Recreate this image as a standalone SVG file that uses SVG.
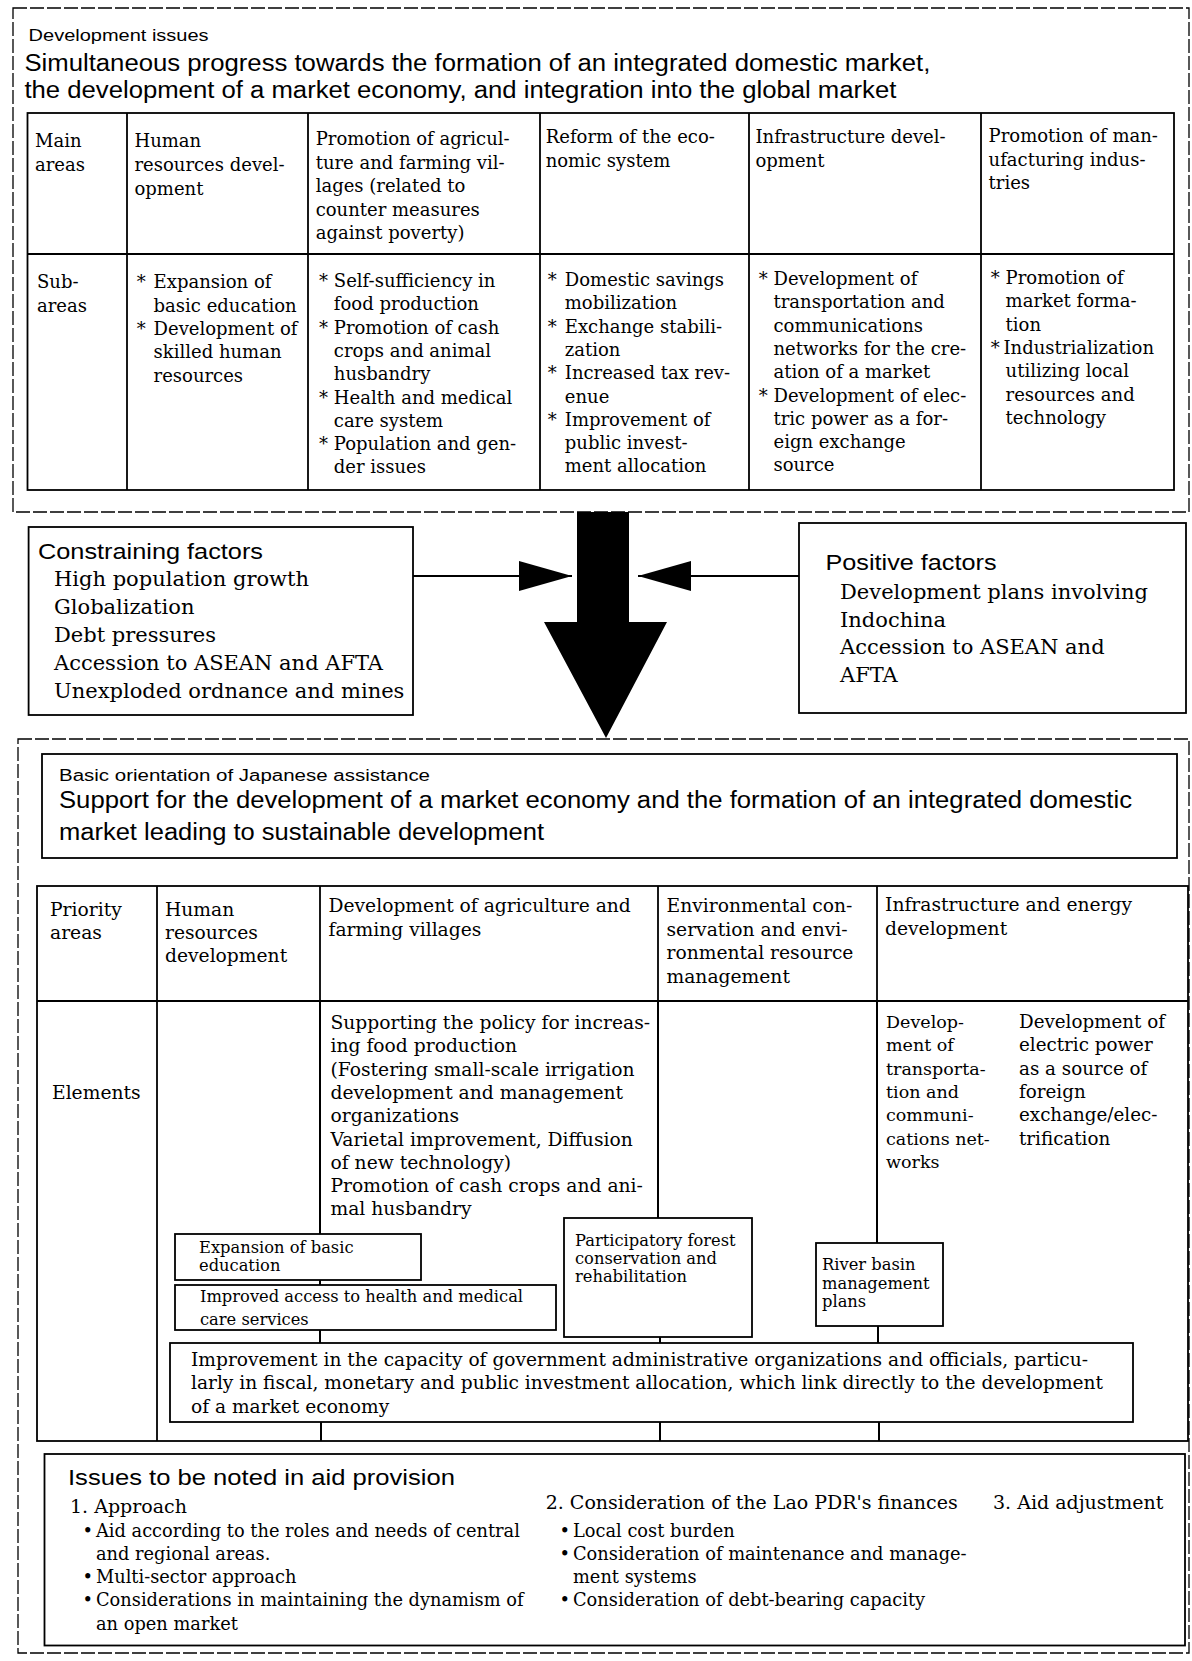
<svg xmlns="http://www.w3.org/2000/svg" width="1192" height="1661" viewBox="0 0 1192 1661">
<style>
.frame{fill:none;stroke:#000;stroke-width:1.3;stroke-dasharray:14 3}
.box{fill:#fff;stroke:#000;stroke-width:1.8}
.grid{fill:none;stroke:#000;stroke-width:1.8}
.conn{fill:none;stroke:#000;stroke-width:2}
.sans{font-family:"Liberation Sans",Arial,sans-serif;fill:#000}
.serif{font-family:"DejaVu Serif","Liberation Serif",serif;fill:#000}
.s16{font-size:16px}
.s22{font-size:22px}
.s23{font-size:23px}
.c18{font-size:18px}
.c187{font-size:18.7px}
.c175{font-size:17.5px}
.c183{font-size:18.3px}
.c163{font-size:16.3px}
.c186{font-size:18.6px}
.c21{font-size:21px}
.c178{font-size:17.8px}
.c19{font-size:19px}
</style>
<defs>
<marker id="tri" viewBox="0 0 53 30" refX="53" refY="15" markerWidth="53" markerHeight="30" markerUnits="userSpaceOnUse" orient="auto">
<path d="M0,0 L53,15 L0,30 Z" fill="#000"/>
</marker>
</defs>
<rect width="1192" height="1661" fill="#fff"/>

<!-- Development issues -->
<g id="development-issues">
<rect class="frame" x="13" y="8" width="1176" height="504"/>
<text class="sans s16" x="28.6" y="41" textLength="180" lengthAdjust="spacingAndGlyphs">Development issues</text>
<text class="sans s23" x="24.4" y="71" textLength="906" lengthAdjust="spacingAndGlyphs">Simultaneous progress towards the formation of an integrated domestic market,</text>
<text class="sans s23" x="24.4" y="98" textLength="872" lengthAdjust="spacingAndGlyphs">the development of a market economy, and integration into the global market</text>
</g>

<g id="top-table-grid">
<rect class="grid" x="27.5" y="113" width="1146.5" height="377"/>
<line class="grid" x1="27.5" y1="254" x2="1174" y2="254"/>
<line class="grid" x1="127" y1="113" x2="127" y2="490"/>
<line class="grid" x1="308" y1="113" x2="308" y2="490"/>
<line class="grid" x1="540" y1="113" x2="540" y2="490"/>
<line class="grid" x1="749" y1="113" x2="749" y2="490"/>
<line class="grid" x1="981" y1="113" x2="981" y2="490"/>
</g>

<g id="top-col-labels" class="serif c18">
<text x="35" y="147">Main</text>
<text x="35" y="171">areas</text>
<text x="37" y="288">Sub-</text>
<text x="37" y="312">areas</text>
</g>

<g id="top-human-resources" class="serif c18">
<text x="134.5" y="147">Human</text>
<text x="134.5" y="171">resources devel-</text>
<text x="134.5" y="194.5">opment</text>
<text x="136.7" y="288">*</text><text x="153.6" y="288">Expansion of</text>
<text x="153.6" y="311.5">basic education</text>
<text x="136.7" y="335">*</text><text x="153.6" y="335">Development of</text>
<text x="153.6" y="358">skilled human</text>
<text x="153.6" y="381.5">resources</text>
</g>

<g id="top-agriculture" class="serif c18">
<text x="315.7" y="145">Promotion of agricul-</text>
<text x="315.7" y="168.5">ture and farming vil-</text>
<text x="315.7" y="192">lages (related to</text>
<text x="315.7" y="215.5">counter measures</text>
<text x="315.7" y="239">against poverty)</text>
<text x="319" y="287">*</text><text x="333.8" y="287">Self-sufficiency in</text>
<text x="333.8" y="310.3">food production</text>
<text x="319" y="333.6">*</text><text x="333.8" y="333.6">Promotion of cash</text>
<text x="333.8" y="356.9">crops and animal</text>
<text x="333.8" y="380.2">husbandry</text>
<text x="319" y="403.5">*</text><text x="333.8" y="403.5">Health and medical</text>
<text x="333.8" y="426.8">care system</text>
<text x="319" y="450.1">*</text><text x="333.8" y="450.1">Population and gen-</text>
<text x="333.8" y="473.4">der issues</text>
</g>

<g id="top-economic-reform" class="serif c18">
<text x="545.7" y="143">Reform of the eco-</text>
<text x="545.7" y="166.5">nomic system</text>
<text x="547.8" y="286">*</text><text x="564.8" y="286">Domestic savings</text>
<text x="564.8" y="309.3">mobilization</text>
<text x="547.8" y="332.6">*</text><text x="564.8" y="332.6">Exchange stabili-</text>
<text x="564.8" y="355.9">zation</text>
<text x="547.8" y="379.2">*</text><text x="564.8" y="379.2">Increased tax rev-</text>
<text x="564.8" y="402.5">enue</text>
<text x="547.8" y="425.8">*</text><text x="564.8" y="425.8">Improvement of</text>
<text x="564.8" y="449.1">public invest-</text>
<text x="564.8" y="472.4">ment allocation</text>
</g>

<g id="top-infrastructure" class="serif c18">
<text x="755.5" y="143">Infrastructure devel-</text>
<text x="755.5" y="166.5">opment</text>
<text x="758.7" y="285">*</text><text x="773.5" y="285">Development of</text>
<text x="773.5" y="308.3">transportation and</text>
<text x="773.5" y="331.6">communications</text>
<text x="773.5" y="354.9">networks for the cre-</text>
<text x="773.5" y="378.2">ation of a market</text>
<text x="758.7" y="401.5">*</text><text x="773.5" y="401.5">Development of elec-</text>
<text x="773.5" y="424.8">tric power as a for-</text>
<text x="773.5" y="448.1">eign exchange</text>
<text x="773.5" y="471.4">source</text>
</g>

<g id="top-manufacturing" class="serif c18">
<text x="988.6" y="142">Promotion of man-</text>
<text x="988.6" y="165.5">ufacturing indus-</text>
<text x="988.6" y="189">tries</text>
<text x="990.7" y="284">*</text><text x="1005.6" y="284">Promotion of</text>
<text x="1005.6" y="307.3">market forma-</text>
<text x="1005.6" y="330.6">tion</text>
<text x="990.7" y="353.9">*</text><text x="1003.5" y="353.9">Industrialization</text>
<text x="1005.6" y="377.2">utilizing local</text>
<text x="1005.6" y="400.5">resources and</text>
<text x="1005.6" y="423.8">technology</text>
</g>

<!-- Factors -->
<g id="constraining-factors">
<rect class="box" x="28.6" y="527" width="384.4" height="188"/>
<text class="sans s22" x="38" y="558.5" textLength="225" lengthAdjust="spacingAndGlyphs">Constraining factors</text>
<g class="serif c21">
<text x="54" y="586">High population growth</text>
<text x="54" y="614">Globalization</text>
<text x="54" y="642">Debt pressures</text>
<text x="54" y="670">Accession to ASEAN and AFTA</text>
<text x="54" y="698">Unexploded ordnance and mines</text>
</g>
</g>

<g id="positive-factors">
<rect class="box" x="799" y="523" width="387" height="190"/>
<text class="sans s22" x="825.5" y="570" textLength="171" lengthAdjust="spacingAndGlyphs">Positive factors</text>
<g class="serif c21">
<text x="840" y="598.7">Development plans involving</text>
<text x="840" y="626.5">Indochina</text>
<text x="840" y="654.3">Accession to ASEAN and</text>
<text x="840" y="682">AFTA</text>
</g>
</g>

<!-- Japanese assistance -->
<g id="japanese-assistance-frame">
<rect class="frame" x="18" y="739" width="1171" height="914"/>
</g>

<g id="basic-orientation">
<rect class="box" x="42" y="754" width="1135" height="104"/>
<text class="sans s16" x="59" y="781" textLength="371" lengthAdjust="spacingAndGlyphs">Basic orientation of Japanese assistance</text>
<text class="sans s23" x="59" y="808" textLength="1073" lengthAdjust="spacingAndGlyphs">Support for the development of a market economy and the formation of an integrated domestic</text>
<text class="sans s23" x="59" y="840" textLength="485" lengthAdjust="spacingAndGlyphs">market leading to sustainable development</text>
</g>

<g id="lower-table-grid">
<rect class="grid" x="37" y="886" width="1151" height="555"/>
<line class="grid" x1="37" y1="1001" x2="1188" y2="1001"/>
<line class="grid" x1="157" y1="886" x2="157" y2="1441"/>
<line class="grid" x1="320" y1="886" x2="320" y2="1001"/>
<line class="grid" x1="658" y1="886" x2="658" y2="1001"/>
<line class="grid" x1="877" y1="886" x2="877" y2="1001"/>
</g>

<g id="lower-col-labels" class="serif c187">
<text x="50" y="915.5">Priority</text>
<text x="50" y="939">areas</text>
<text x="52" y="1099">Elements</text>
</g>

<g id="priority-human-resources" class="serif c187">
<text x="165" y="915.5">Human</text>
<text x="165" y="939">resources</text>
<text x="165" y="962">development</text>
</g>

<g id="priority-agriculture" class="serif c187">
<text x="328.5" y="912">Development of agriculture and</text>
<text x="328.5" y="935.5">farming villages</text>
<text x="330.5" y="1029">Supporting the policy for increas-</text>
<text x="330.5" y="1052.3">ing food production</text>
<text x="330.5" y="1075.6">(Fostering small-scale irrigation</text>
<text x="330.5" y="1098.9">development and management</text>
<text x="330.5" y="1122.2">organizations</text>
<text x="330.5" y="1145.5">Varietal improvement, Diffusion</text>
<text x="330.5" y="1168.8">of new technology)</text>
<text x="330.5" y="1192.1">Promotion of cash crops and ani-</text>
<text x="330.5" y="1215.4">mal husbandry</text>
</g>

<g id="priority-environment" class="serif c187">
<text x="666.5" y="912">Environmental con-</text>
<text x="666.5" y="935.5">servation and envi-</text>
<text x="666.5" y="959">ronmental resource</text>
<text x="666.5" y="982.5">management</text>
</g>

<g id="priority-infrastructure" class="serif">
<text class="c187" x="885" y="911">Infrastructure and energy</text>
<text class="c187" x="885" y="934.5">development</text>
<g class="c175">
<text x="886" y="1028">Develop-</text>
<text x="886" y="1051.3">ment of</text>
<text x="886" y="1074.6">transporta-</text>
<text x="886" y="1097.9">tion and</text>
<text x="886" y="1121.2">communi-</text>
<text x="886" y="1144.5">cations net-</text>
<text x="886" y="1167.8">works</text>
</g>
<g class="c183">
<text x="1019" y="1028">Development of</text>
<text x="1019" y="1051.3">electric power</text>
<text x="1019" y="1074.6">as a source of</text>
<text x="1019" y="1097.9">foreign</text>
<text x="1019" y="1121.2">exchange/elec-</text>
<text x="1019" y="1144.5">trification</text>
</g>
</g>

<!-- Connectors -->
<g id="connectors">
<polygon points="577,512 629,512 629,622 667,622 606,738 544,622 577,622" fill="#000"/>
<line class="conn" x1="413" y1="576" x2="572" y2="576" marker-end="url(#tri)"/>
<line class="conn" x1="799" y1="576" x2="638" y2="576" marker-end="url(#tri)"/>
<line class="conn" x1="320" y1="1001" x2="320" y2="1234"/>
<line class="conn" x1="320" y1="1280" x2="320" y2="1285"/>
<line class="conn" x1="320" y1="1330" x2="320" y2="1343"/>
<line class="conn" x1="321" y1="1422" x2="321" y2="1441"/>
<line class="conn" x1="658" y1="1001" x2="658" y2="1218"/>
<line class="conn" x1="660" y1="1337" x2="660" y2="1343"/>
<line class="conn" x1="660" y1="1422" x2="660" y2="1441"/>
<line class="conn" x1="877" y1="1001" x2="877" y2="1243"/>
<line class="conn" x1="878" y1="1326" x2="878" y2="1343"/>
<line class="conn" x1="879" y1="1422" x2="879" y2="1441"/>
</g>

<g id="expansion-basic-education">
<rect class="box" x="175" y="1234" width="246" height="46"/>
<text class="serif c163" x="199" y="1252.5">Expansion of basic</text>
<text class="serif c163" x="199" y="1270.5">education</text>
</g>

<g id="improved-health-access">
<rect class="box" x="175" y="1285" width="381" height="45"/>
<text class="serif c163" x="200" y="1302">Improved access to health and medical</text>
<text class="serif c163" x="200" y="1324.5">care services</text>
</g>

<g id="participatory-forest">
<rect class="box" x="564" y="1218" width="188" height="119"/>
<text class="serif c163" x="575" y="1246">Participatory forest</text>
<text class="serif c163" x="575" y="1264">conservation and</text>
<text class="serif c163" x="575" y="1282">rehabilitation</text>
</g>

<g id="river-basin">
<rect class="box" x="816" y="1243" width="127" height="83"/>
<text class="serif c163" x="822" y="1269.5">River basin</text>
<text class="serif c163" x="822" y="1288.5">management</text>
<text class="serif c163" x="822" y="1306.5">plans</text>
</g>

<g id="government-capacity">
<rect class="box" x="170" y="1343" width="963" height="79"/>
<g class="serif c186">
<text x="191" y="1366">Improvement in the capacity of government administrative organizations and officials, particu-</text>
<text x="191" y="1389">larly in fiscal, monetary and public investment allocation, which link directly to the development</text>
<text x="191" y="1412.5">of a market economy</text>
</g>
</g>

<g id="issues-aid-provision">
<rect class="box" x="44.5" y="1454" width="1140.5" height="191.5"/>
<text class="sans s22" x="68" y="1484.5" textLength="387" lengthAdjust="spacingAndGlyphs">Issues to be noted in aid provision</text>
<g class="serif c19">
<text x="70" y="1513">1.  Approach</text>
<text x="545.7" y="1509">2.  Consideration of the Lao PDR's finances</text>
<text x="993" y="1509">3.  Aid adjustment</text>
</g>
<g class="serif c178">
<text x="82.5" y="1536.5">•</text><text x="96" y="1536.5">Aid according to the roles and needs of central</text>
<text x="96" y="1559.8">and regional areas.</text>
<text x="82.5" y="1583.1">•</text><text x="96" y="1583.1">Multi-sector approach</text>
<text x="82.5" y="1606.4">•</text><text x="96" y="1606.4">Considerations in maintaining the dynamism of</text>
<text x="96" y="1629.7">an open market</text>
<text x="559.5" y="1536.5">•</text><text x="573" y="1536.5">Local cost burden</text>
<text x="559.5" y="1559.8">•</text><text x="573" y="1559.8">Consideration of maintenance and manage-</text>
<text x="573" y="1583.1">ment systems</text>
<text x="559.5" y="1606.4">•</text><text x="573" y="1606.4">Consideration of debt-bearing capacity</text>
</g>
</g>
</svg>
